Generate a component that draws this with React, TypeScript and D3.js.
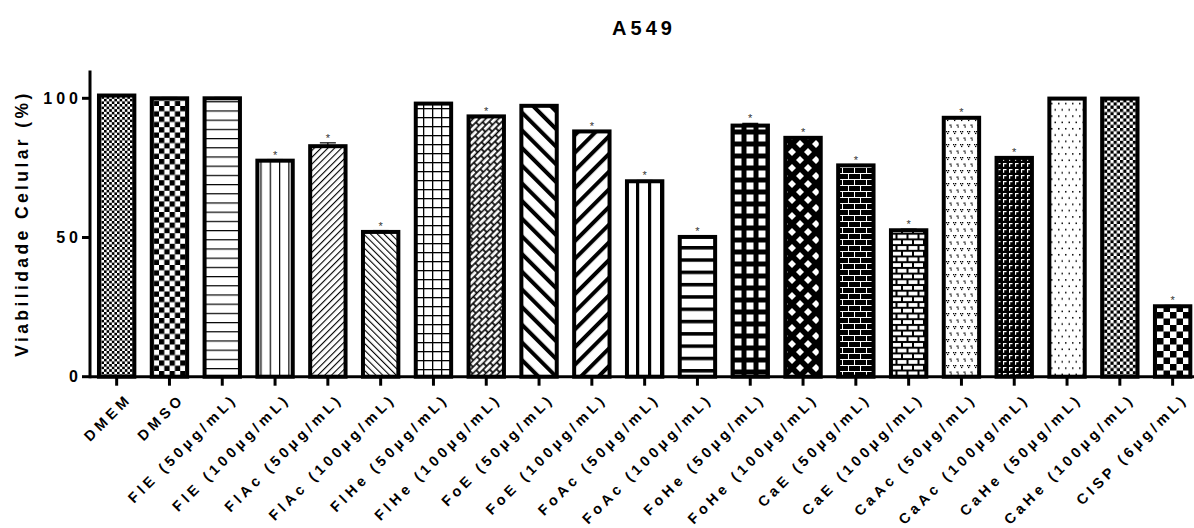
import * as d3 from "d3";

const CATEGORIES = [
  "DMEM", "DMSO",
  "FlE (50µg/mL)", "FlE (100µg/mL)", "FlAc (50µg/mL)", "FlAc (100µg/mL)", "FlHe (50µg/mL)", "FlHe (100µg/mL)",
  "FoE (50µg/mL)", "FoE (100µg/mL)", "FoAc (50µg/mL)", "FoAc (100µg/mL)", "FoHe (50µg/mL)", "FoHe (100µg/mL)",
  "CaE (50µg/mL)", "CaE (100µg/mL)", "CaAc (50µg/mL)", "CaAc (100µg/mL)", "CaHe (50µg/mL)", "CaHe (100µg/mL)",
  "CISP (6µg/mL)",
];
const VALUES = [101, 100, 100, 77.6, 82.8, 52, 98.1, 93.5, 97.3, 88.1, 70.2, 50.2, 90.2, 85.8, 75.9, 52.6, 93, 78.6, 99.9, 99.9, 25.3];
const ERRORS = [0.3, 0.3, 0.3, 0.4, 1.2, 0.5, 0.3, 0.3, 0.4, 0.3, 0.3, 0.4, 0.8, 0.3, 0.3, 0.4, 0.3, 0.3, 0.3, 0.3, 0.3];
const SIGNIFICANT = [false, false, false, true, true, true, false, true, false, true, true, true, true, true, true, true, true, true, false, false, true];
const Y_TICKS = [0, 50, 100];
const FILLS = [
  "checkFine", "checkMid", "hThin", "vThin", "diagUpThin", "diagDownThin", "grid", "diagBrick",
  "diagDownThick", "diagUpThick", "vThick", "hThick", "gridThick", "diamond",
  "brickDark", "brickLight", "speckle", "gammaDark", "dots", "checkSmall", "checkBig",
];

const W = 1194;
const H = 528;
const X0 = 90;
const Y0 = 376.7;
const FONT = "'Liberation Sans', Arial, sans-serif";

function Checker({ id, size }: { id: string; size: number }) {
  return (
    <pattern id={id} width={size * 2} height={size * 2} patternUnits="userSpaceOnUse">
      <rect width={size * 2} height={size * 2} fill="#fff" />
      <rect width={size} height={size} fill="#000" />
      <rect x={size} y={size} width={size} height={size} fill="#000" />
    </pattern>
  );
}

function Lines({ id, gap, thick, angle }: { id: string; gap: number; thick: number; angle: number }) {
  return (
    <pattern id={id} width={gap} height={gap} patternUnits="userSpaceOnUse" patternTransform={`rotate(${angle})`}>
      <rect width={gap} height={gap} fill="#fff" />
      <rect width={thick} height={gap} fill="#000" />
    </pattern>
  );
}

function Defs() {
  return (
    <defs>
      <Checker id="checkFine" size={2.6} />
      <Checker id="checkMid" size={5.3} />
      <Checker id="checkSmall" size={3.2} />
      <Checker id="checkBig" size={6.5} />
      <Lines id="hThin" gap={9.2} thick={1.2} angle={90} />
      <Lines id="vThin" gap={9.3} thick={1.2} angle={0} />
      <Lines id="diagUpThin" gap={4.8} thick={1.1} angle={45} />
      <Lines id="diagDownThin" gap={4.8} thick={1.1} angle={-45} />
      <Lines id="diagUpThick" gap={12.5} thick={4} angle={45} />
      <Lines id="diagDownThick" gap={12.5} thick={4} angle={-45} />
      <Lines id="vThick" gap={12} thick={3.2} angle={0} />
      <Lines id="hThick" gap={12.3} thick={3.5} angle={90} />
      <pattern id="grid" width={9} height={9} patternUnits="userSpaceOnUse">
        <rect width={9} height={9} fill="#fff" />
        <rect width={1.3} height={9} fill="#000" />
        <rect width={9} height={1.3} fill="#000" />
      </pattern>
      <pattern id="gridThick" width={12} height={12} patternUnits="userSpaceOnUse">
        <rect width={12} height={12} fill="#000" />
        <rect x={2.5} y={2.5} width={7} height={7} fill="#fff" />
      </pattern>
      <pattern id="diamond" width={16} height={16} patternUnits="userSpaceOnUse">
        <rect width={16} height={16} fill="#000" />
        <path d="M8,4L12,8L8,12L4,8Z M0,-4L4,0L0,4L-4,0Z M16,-4L20,0L16,4L12,0Z M0,12L4,16L0,20L-4,16Z M16,12L20,16L16,20L12,16Z" fill="#fff" />
      </pattern>
      <pattern id="diagBrick" width={10} height={9} patternUnits="userSpaceOnUse" patternTransform="rotate(-45)">
        <rect width={10} height={9} fill="#000" />
        <rect x={0.8} y={0.8} width={8.4} height={2.9} fill="#fff" />
        <rect x={-4.2} y={5.3} width={8.4} height={2.9} fill="#fff" />
        <rect x={5.8} y={5.3} width={8.4} height={2.9} fill="#fff" />
      </pattern>
      <pattern id="brickDark" width={12} height={12} patternUnits="userSpaceOnUse">
        <rect width={12} height={12} fill="#000" />
        <rect y={5} width={12} height={1} fill="#fff" />
        <rect y={11} width={12} height={1} fill="#fff" />
        <rect x={2} width={1} height={6} fill="#fff" />
        <rect x={8} y={6} width={1} height={6} fill="#fff" />
      </pattern>
      <pattern id="brickLight" width={11} height={11.4} patternUnits="userSpaceOnUse">
        <rect width={11} height={11.4} fill="#000" />
        <rect x={1} y={1} width={9} height={3.7} fill="#fff" />
        <rect x={-4.5} y={6.7} width={9} height={3.7} fill="#fff" />
        <rect x={6.5} y={6.7} width={9} height={3.7} fill="#fff" />
      </pattern>
      <pattern id="speckle" width={7} height={13} patternUnits="userSpaceOnUse">
        <rect width={7} height={13} fill="#fff" />
        <rect x={1} y={1} width={1.3} height={1.3} fill="#000" />
        <rect x={3} y={1} width={1.3} height={1.3} fill="#000" />
        <rect x={2} y={2.8} width={1.3} height={1.3} fill="#000" />
        <rect x={4.5} y={7.5} width={1.3} height={1.3} fill="#000" />
        <rect x={6.5} y={7.5} width={1.3} height={1.3} fill="#000" />
        <rect x={5.5} y={9.3} width={1.3} height={1.3} fill="#000" />
      </pattern>
      <pattern id="gammaDark" width={6} height={6} patternUnits="userSpaceOnUse">
        <rect width={6} height={6} fill="#000" />
        <rect x={1} y={1} width={3.5} height={1.2} fill="#fff" />
        <rect x={1} y={1} width={1.2} height={3.8} fill="#fff" />
      </pattern>
      <pattern id="dots" width={7} height={12.6} patternUnits="userSpaceOnUse">
        <rect width={7} height={12.6} fill="#fff" />
        <rect x={1} y={2} width={1.5} height={1.5} fill="#000" />
        <rect x={4.5} y={8.3} width={1.5} height={1.5} fill="#000" />
      </pattern>
    </defs>
  );
}

export default function App() {
  const x = d3.scaleBand<string>().domain(CATEGORIES).range([X0, 1199.3]).paddingInner(0.33).paddingOuter(0.17);
  const y = d3.scaleLinear().domain([0, 110]).range([Y0, Y0 - 110 * 2.784]);
  const bw = x.bandwidth();

  return (
    <svg width={W} height={H} style={{ position: "absolute", left: 0, top: 0, background: "#fff" }} fontFamily={FONT} fontWeight="bold">
      <Defs />
      <text x={(X0 + W) / 2 + 2} y={35} textAnchor="middle" fontSize={20} letterSpacing={4}>A549</text>
      <text transform={`translate(28,${(Y0 + y(110)) / 2}) rotate(-90)`} textAnchor="middle" fontSize={17.5} letterSpacing={3.4}>
        Viabilidade Celular (%)
      </text>

      {CATEGORIES.map((c, i) => {
        const v = VALUES[i];
        const e = ERRORS[i];
        const cx = (x(c) ?? 0) + bw / 2;
        return (
          <g key={c}>
            <line x1={cx} x2={cx} y1={y(v)} y2={y(v + e)} stroke="#000" strokeWidth={1.2} />
            <line x1={cx - 8} x2={cx + 8} y1={y(v + e)} y2={y(v + e)} stroke="#000" strokeWidth={1.2} />
            <rect x={x(c)} y={y(v)} width={bw} height={Y0 - y(v)} fill={`url(#${FILLS[i]})`} stroke="#000" strokeWidth={4} />
            {SIGNIFICANT[i] && (
              <text x={cx} y={y(v + e) - 1} textAnchor="middle" fontSize={11} fontWeight="normal" fill="#333">*</text>
            )}
          </g>
        );
      })}

      {/* axes */}
      <line x1={X0} x2={X0} y1={y(110)} y2={Y0 + 1.5} stroke="#000" strokeWidth={3} />
      <line x1={X0} x2={W} y1={Y0} y2={Y0} stroke="#000" strokeWidth={3} />
      {Y_TICKS.map((t) => (
        <g key={t}>
          <line x1={X0 - 8} x2={X0} y1={y(t)} y2={y(t)} stroke="#000" strokeWidth={3} />
          <text x={82} y={y(t)} dy="0.36em" textAnchor="end" fontSize={16} letterSpacing={4}>{t}</text>
        </g>
      ))}
      {CATEGORIES.map((c) => {
        const cx = (x(c) ?? 0) + bw / 2;
        return (
          <g key={c}>
            <line x1={cx} x2={cx} y1={Y0} y2={Y0 + 9} stroke="#000" strokeWidth={3} />
            <text transform={`translate(${cx + 16},${Y0 + 23}) rotate(-45)`} textAnchor="end" fontSize={14.5} letterSpacing={4}>{c}</text>
          </g>
        );
      })}
    </svg>
  );
}
